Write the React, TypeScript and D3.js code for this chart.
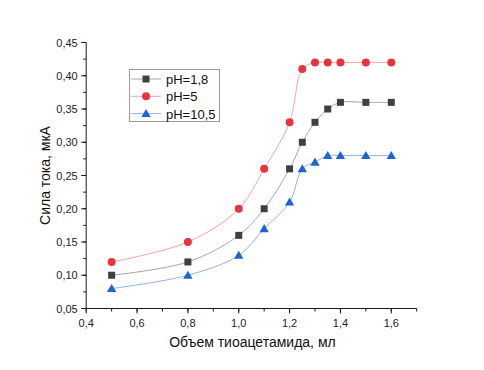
import React from "react";
import * as d3 from "d3";

// объем тиоацетамида, мл
const volumes = [0.5, 0.8, 1.0, 1.1, 1.2, 1.25, 1.3, 1.35, 1.4, 1.5, 1.6];
const ph18 = [0.1, 0.12, 0.16, 0.2, 0.26, 0.3, 0.33, 0.35, 0.36, 0.36, 0.36];
const ph5 = [0.12, 0.15, 0.2, 0.26, 0.33, 0.41, 0.42, 0.42, 0.42, 0.42, 0.42];
const ph105 = [0.08, 0.1, 0.13, 0.17, 0.21, 0.26, 0.27, 0.28, 0.28, 0.28, 0.28];
const seriesNames = ["pH=1,8", "pH=5", "pH=10,5"];
const xTicks = [0.4, 0.6, 0.8, 1.0, 1.2, 1.4, 1.6];
const yTicks = [0.05, 0.1, 0.15, 0.2, 0.25, 0.3, 0.35, 0.4, 0.45];

const W = 484;
const H = 370;
const FONT = "'Liberation Sans', Arial, sans-serif";

const fmt = (d: number, digits: number) => d.toFixed(digits).replace(".", ",");

function Marker({ kind, x, y, color }: { kind: string; x: number; y: number; color: string }) {
  if (kind === "square") {
    return <rect x={x - 3.5} y={y - 3.5} width={7} height={7} fill={color} />;
  }
  if (kind === "circle") {
    return <circle cx={x} cy={y} r={4} fill={color} />;
  }
  const tri = d3.symbol().type(d3.symbolTriangle).size(38)();
  return <path d={tri || ""} transform={`translate(${x},${y + 0.8})`} fill={color} />;
}

export default function App() {
  const x = d3.scaleLinear().domain([0.4, 1.7]).range([86.2, 416.7]);
  const y = d3.scaleLinear().domain([0.05, 0.45]).range([308.5, 42.5]);

  const series = [
    { name: seriesNames[0], values: ph18, marker: "square", color: "#404040", line: "#a6a6a6" },
    { name: seriesNames[1], values: ph5, marker: "circle", color: "#e8343c", line: "#f5a3a6" },
    { name: seriesNames[2], values: ph105, marker: "triangle", color: "#1f63d4", line: "#8fb3ea" },
  ];

  const lineGen = d3
    .line<number>()
    .x((_, i) => x(volumes[i]))
    .y((v) => y(v))
    .curve(d3.curveCatmullRom.alpha(0.5));

  const xMinor = d3.range(4, 18).map((d) => d / 10);
  const yMinor = d3.range(2, 19).map((d) => d * 0.025);
  const [x0, x1] = x.range();
  const [y0, y1] = y.range();

  return (
    <svg width={W} height={H} style={{ position: "absolute", left: 0, top: 0, background: "#fff" }}>
      <g fontFamily={FONT}>
        {series.map((s) => (
          <g key={s.name}>
            <path d={lineGen(s.values) || ""} fill="none" stroke={s.line} strokeWidth={1} />
            {s.values.map((v, i) => (
              <Marker key={i} kind={s.marker} x={x(volumes[i])} y={y(v)} color={s.color} />
            ))}
          </g>
        ))}

        {/* x axis */}
        <line x1={x0} x2={x1} y1={y0} y2={y0} stroke="#1a1a1a" strokeWidth={1} />
        {xMinor.map((t) => (
          <line key={"xm" + t} x1={x(t)} x2={x(t)} y1={y0} y2={y0 + 3} stroke="#1a1a1a" />
        ))}
        {xTicks.map((t) => (
          <g key={"x" + t}>
            <line x1={x(t)} x2={x(t)} y1={y0} y2={y0 + 5} stroke="#1a1a1a" />
            <text x={x(t)} y={y0 + 18.5} textAnchor="middle" fontSize={11} fill="#222">
              {fmt(t, 1)}
            </text>
          </g>
        ))}
        <text x={(x0 + x1) / 2 + 1} y={346.5} textAnchor="middle" fontSize={14} fill="#111">
          Объем тиоацетамида, мл
        </text>

        {/* y axis */}
        <line x1={x0} x2={x0} y1={y0} y2={y1} stroke="#1a1a1a" strokeWidth={1} />
        {yMinor.map((t) => (
          <line key={"ym" + t} x1={x0} x2={x0 - 3} y1={y(t)} y2={y(t)} stroke="#1a1a1a" />
        ))}
        {yTicks.map((t) => (
          <g key={"y" + t}>
            <line x1={x0} x2={x0 - 5} y1={y(t)} y2={y(t)} stroke="#1a1a1a" />
            <text x={x0 - 8.5} y={y(t) + 4} textAnchor="end" fontSize={11} fill="#222">
              {fmt(t, 2)}
            </text>
          </g>
        ))}
        <text
          transform={`translate(50,${(y0 + y1) / 2}) rotate(-90)`}
          textAnchor="middle"
          fontSize={14}
          fill="#111"
        >
          Сила тока, мкА
        </text>

        {/* legend */}
        <rect x={129.5} y={69.5} width={90} height={52} fill="#fff" stroke="#9a9a9a" strokeWidth={1} />
        {series.map((s, i) => {
          const ly = 79 + i * 17.3;
          return (
            <g key={"lg" + s.name}>
              <line x1={131} x2={161} y1={ly} y2={ly} stroke={s.line} strokeWidth={1} />
              <Marker kind={s.marker} x={146} y={ly} color={s.color} />
              <text x={166} y={ly + 5} fontSize={13} fill="#111">
                {s.name}
              </text>
            </g>
          );
        })}
      </g>
    </svg>
  );
}
